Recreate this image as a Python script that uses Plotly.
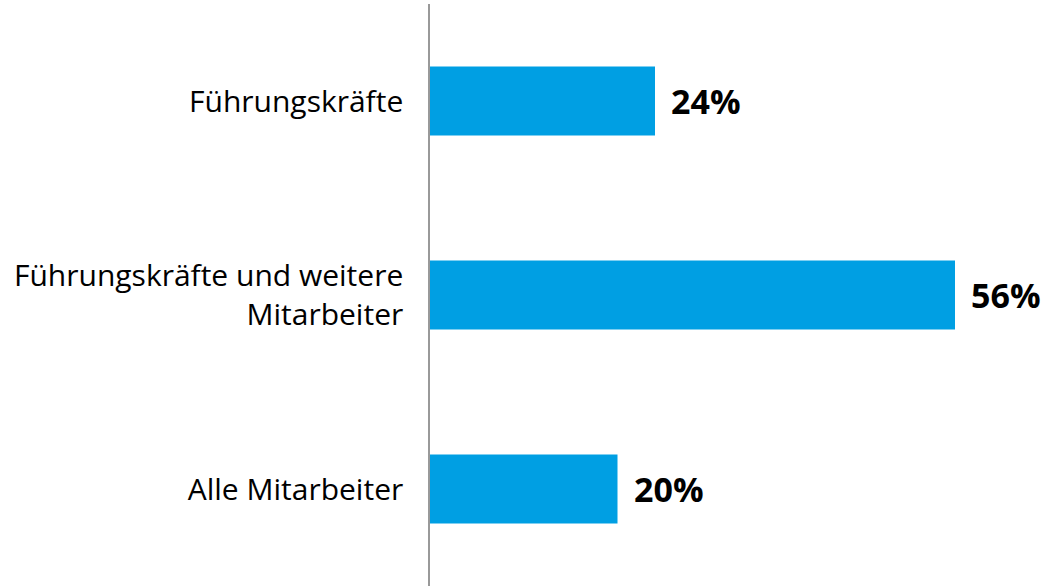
import plotly.graph_objects as go

categories = ["Führungskräfte", "Führungskräfte und weitere<br>Mitarbeiter", "Alle Mitarbeiter"]
values = [24, 56, 20]
value_labels = ["24%", "56%", "20%"]

fig = go.Figure(go.Bar(
    y=categories, x=values, orientation="h",
    marker=dict(color="#009FE3", line=dict(width=0)),
    width=0.355, hoverinfo="skip",
))
for c, v, t in zip(categories, values, value_labels):
    fig.add_annotation(x=v, y=c, text=f"<b>{t}</b>", showarrow=False,
                       xanchor="left", xshift=14,
                       font=dict(family="Open Sans", size=34, color="#000000"))

fig.update_layout(
    width=1048, height=586,
    margin=dict(l=430, r=0, t=4, b=0),
    paper_bgcolor="white", plot_bgcolor="white",
    showlegend=False,
    font=dict(family="Open Sans", size=30, color="#000000"),
)
fig.update_xaxes(range=[0, 618/9.375], visible=False, showgrid=False, zeroline=False)
fig.update_yaxes(autorange=False, range=[2.5, -0.5], type="category",
                 showline=True, linecolor="#999999", linewidth=1.5,
                 showgrid=False, ticks="", ticklabelstandoff=19,
                 tickfont=dict(family="Open Sans", size=30, color="#000000"))
fig.write_html("out.html", config={"displayModeBar": False},
               post_script="document.body.style.margin='0';document.body.style.overflow='hidden';")
